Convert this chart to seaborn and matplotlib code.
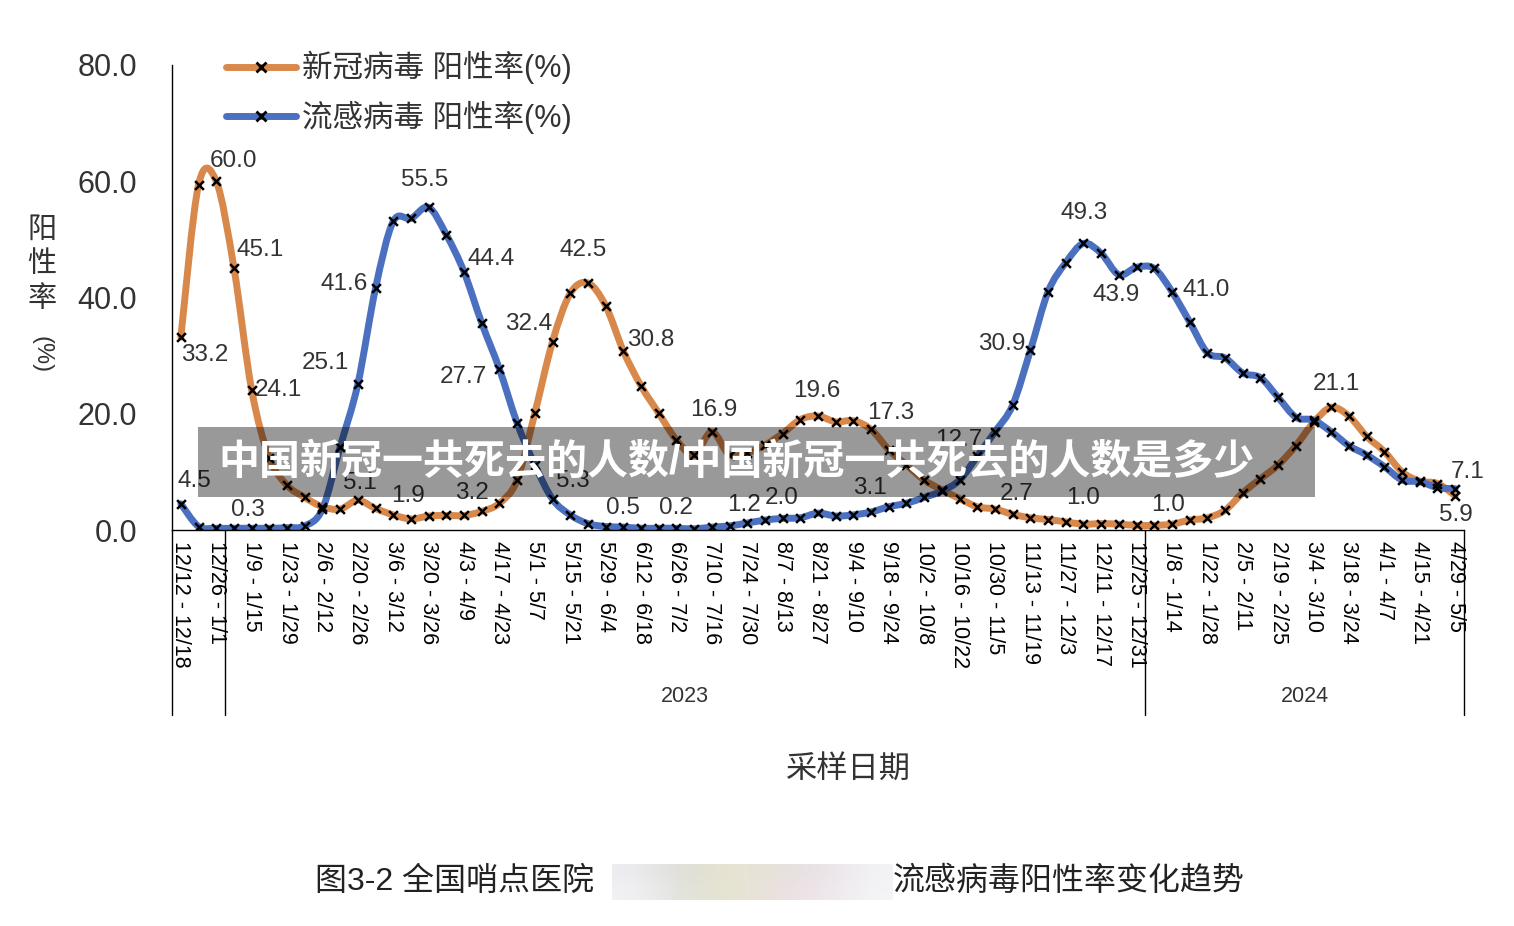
import numpy as np
import pandas as pd
import seaborn as sns
import matplotlib.pyplot as plt
import matplotlib.transforms as mtransforms
from matplotlib.path import Path
from matplotlib.patches import PathPatch, Rectangle
from matplotlib.lines import Line2D

# weekly positivity rates, 2022-12-12 .. 2024-04-29
covid = [33.2, 59.4, 60.0, 45.1, 24.1, 12.4, 7.7, 5.6, 4.0, 3.6,
         5.1, 3.7, 2.6, 1.9, 2.4, 2.5, 2.5, 3.2, 4.6, 8.6,
         20.1, 32.4, 40.7, 42.5, 38.6, 30.8, 24.8, 20.1, 15.5, 12.9,
         16.9, 12.9, 13.3, 14.6, 16.6, 19.0, 19.6, 18.6, 18.8, 17.3,
         13.8, 11.2, 8.6, 6.9, 5.4, 4.0, 3.6, 2.7, 2.1, 1.8,
         1.4, 1.0, 1.1, 1.0, 0.8, 0.8, 1.0, 1.7, 2.1, 3.4,
         6.4, 8.8, 11.2, 14.5, 18.5, 21.1, 19.6, 16.1, 13.5, 10.0,
         8.4, 8.0, 5.9]
flu = [4.5, 0.6, 0.3, 0.3, 0.3, 0.3, 0.4, 0.7, 3.6, 14.3,
       25.1, 41.6, 53.1, 53.6, 55.5, 50.8, 44.4, 35.6, 27.7, 18.4,
       11.2, 5.3, 2.6, 1.1, 0.6, 0.5, 0.3, 0.3, 0.3, 0.2,
       0.5, 0.7, 1.2, 1.7, 2.0, 2.1, 2.9, 2.4, 2.6, 3.1,
       4.0, 4.6, 5.6, 6.7, 8.6, 12.7, 16.9, 21.5, 30.9, 41.0,
       46.0, 49.3, 47.6, 43.9, 45.2, 45.0, 41.0, 35.8, 30.5, 29.6,
       27.0, 26.2, 22.8, 19.4, 18.9, 16.9, 14.5, 12.9, 10.9, 8.6,
       8.3, 7.3, 7.1]

week_labels = ["12/12 - 12/18", "12/26 - 1/1", "1/9 - 1/15", "1/23 - 1/29", "2/6 - 2/12",
               "2/20 - 2/26", "3/6 - 3/12", "3/20 - 3/26", "4/3 - 4/9", "4/17 - 4/23",
               "5/1 - 5/7", "5/15 - 5/21", "5/29 - 6/4", "6/12 - 6/18", "6/26 - 7/2",
               "7/10 - 7/16", "7/24 - 7/30", "8/7 - 8/13", "8/21 - 8/27", "9/4 - 9/10",
               "9/18 - 9/24", "10/2 - 10/8", "10/16 - 10/22", "10/30 - 11/5", "11/13 - 11/19",
               "11/27 - 12/3", "12/11 - 12/17", "12/25 - 12/31", "1/8 - 1/14", "1/22 - 1/28",
               "2/5 - 2/11", "2/19 - 2/25", "3/4 - 3/10", "3/18 - 3/24", "4/1 - 4/7",
               "4/15 - 4/21", "4/29 - 5/5"]
years = ["", "2023", "2024"]
weeks_per_year = [3, 52, 18]
y_ticks = [0, 20, 40, 60, 80]

series_names = ["新冠病毒 阳性率(%)", "流感病毒 阳性率(%)"]
colors = ["#D9884B", "#4A70BF"]

# labelled points: index, and label offset in pixels (dx right, dy down)
covid_labels = [(0, 24, 18), (2, 17, -20), (3, 26, -18), (4, 27, 0), (10, 2, -17),
                (13, -3, -23), (17, -10, -18), (21, -24, -18), (23, -5, -33), (25, 27, -11),
                (30, 2, -22), (36, -1, -25), (39, 20, -16), (47, 4, -20), (51, 0, -26),
                (56, -4, -19), (65, 5, -23), (72, 1, 19)]
flu_labels = [(0, 14, -23), (4, -4, -18), (10, -32, -21), (11, -31, -4), (14, -4, -27),
              (16, 27, -13), (18, -36, 8), (21, 20, -18), (25, 0, -19), (29, -18, -21),
              (32, -3, -18), (34, -1, -20), (39, -1, -24), (45, -19, -16), (48, -29, -6),
              (51, 1, -30), (53, -3, 20), (56, 34, -2), (72, 12, -17)]

banner = "中国新冠一共死去的人数/中国新冠一共死去的人数是多少"


def smooth_path(xs, ys):
    # excel-like smoothed line: cubic bezier with catmull-rom control points
    pts = np.column_stack([xs, ys]).astype(float)
    ext = np.vstack([pts[0], pts, pts[-1]])
    verts, codes = [pts[0]], [Path.MOVETO]
    for i in range(len(pts) - 1):
        p0, p1, p2, p3 = ext[i], ext[i + 1], ext[i + 2], ext[i + 3]
        verts += [p1 + (p2 - p0) / 6, p2 - (p3 - p1) / 6, p2]
        codes += [Path.CURVE4] * 3
    return Path(verts, codes)


sns.set_style("white")
plt.rcParams["font.family"] = ["Liberation Sans", "Noto Sans CJK SC", "DejaVu Sans"]
text_color = "#333333"

W, H = 1514, 926
fig = plt.figure(figsize=(W / 100, H / 100), dpi=100)
ax = fig.add_axes([172 / W, 1 - 530 / H, 1292 / W, 465 / H])

x = np.arange(len(covid))
df = pd.DataFrame({"week": np.concatenate([x, x]),
                   "rate": covid + flu,
                   "virus": [series_names[0]] * len(covid) + [series_names[1]] * len(flu)})

for name, c in zip(series_names, colors):
    d = df[df["virus"] == name]
    ax.add_patch(PathPatch(smooth_path(d["week"], d["rate"]), fill=False, edgecolor=c,
                           lw=5, capstyle="round", joinstyle="round", zorder=2))
sns.scatterplot(data=df, x="week", y="rate", marker="x", color="black", s=40,
                linewidth=1.8, ax=ax, legend=False, zorder=4)

for vals, labs in [(covid, covid_labels), (flu, flu_labels)]:
    for i, dx, dy in labs:
        ax.annotate(f"{vals[i]:.1f}", (i, vals[i]), xytext=(dx * 0.72, -dy * 0.72),
                    textcoords="offset points", ha="center", va="center",
                    fontsize=17.5, color=text_color, zorder=5)

ax.set_xlim(-0.5, len(covid) - 0.5)
ax.set_ylim(0, 80)
ax.set_xlabel("")
ax.set_ylabel("")
sns.despine(ax=ax)
for s in ["left", "bottom"]:
    ax.spines[s].set_color("black")
    ax.spines[s].set_linewidth(1)

ax.set_yticks(y_ticks)
ax.set_yticklabels([f"{v:.1f}" for v in y_ticks], fontsize=22, color=text_color)
ax.tick_params(axis="y", direction="out", length=6, width=1, color="black", pad=19)

ax.set_xticks(x[::2])
ax.set_xticklabels(week_labels, rotation=-90, fontsize=15.5, color="black", va="top", ha="center")
ax.set_xticks(np.arange(-0.5, len(covid), 1), minor=True)
ax.tick_params(axis="x", which="major", length=0, pad=8)
ax.tick_params(axis="x", which="minor", direction="out", length=104, width=1, color="black")

# year grouping below the week labels
trans = mtransforms.blended_transform_factory(ax.transData, ax.transAxes)
edges = np.concatenate([[0], np.cumsum(weeks_per_year)]) - 0.5
for e in edges:
    ax.plot([e, e], [0, -0.398], transform=trans, color="black", lw=1, clip_on=False)
for yr, a, b in zip(years, edges[:-1], edges[1:]):
    ax.text((a + b) / 2, -0.359, yr, transform=trans, ha="center", va="center",
            fontsize=15.5, color=text_color)

fig.text(42 / W, 1 - 264 / H, "阳\n性\n率", ha="center", va="center", fontsize=21,
         linespacing=1.3, color=text_color)
fig.text(42 / W, 1 - 355 / H, "(%)", ha="center", va="center", fontsize=17,
         rotation=-90, color=text_color)
fig.text(848 / W, 1 - 771 / H, "采样日期", ha="center", va="center", fontsize=22.5, color=text_color)

handles = [Line2D([], [], color=c, lw=5, marker="x", mec="black", mew=2, ms=7,
                  solid_capstyle="round") for c in colors]
fig.legend(handles, series_names, loc="upper left", bbox_to_anchor=(226 / W, 1 - 51 / H),
           frameon=False, fontsize=22, handlelength=2.3, handletextpad=0.2,
           labelspacing=0.55, borderpad=0, borderaxespad=0, labelcolor=text_color)

# caption with the smudged middle part
fig.text(315 / W, 1 - 882 / H, "图3-2 全国哨点医院", ha="left", va="center",
         fontsize=23, color="#222222")
fig.text(893 / W, 1 - 882 / H, "流感病毒阳性率变化趋势", ha="left", va="center",
         fontsize=23, color="#222222")
blur = fig.add_axes([612 / W, 1 - 900 / H, 281 / W, 36 / H])
blur.imshow(np.array([[[0.93, 0.93, 0.95], [0.86, 0.86, 0.84], [0.92, 0.90, 0.82],
                       [0.90, 0.88, 0.86], [0.92, 0.88, 0.90], [0.95, 0.95, 0.96]],
                      [[0.95, 0.95, 0.96], [0.88, 0.88, 0.86], [0.90, 0.90, 0.80],
                       [0.92, 0.88, 0.88], [0.93, 0.90, 0.92], [0.96, 0.96, 0.97]]]),
            aspect="auto", interpolation="bicubic")
blur.axis("off")

# overlaid watermark banner
fig.patches.append(Rectangle((198 / W, 1 - 497 / H), 1117 / W, 70 / H, transform=fig.transFigure,
                             facecolor="black", alpha=0.4, edgecolor="none", zorder=10))
fig.text(218 / W, 1 - 462 / H, banner, ha="left", va="center", fontsize=29.5,
         fontweight="bold", color="white", zorder=11)

fig.savefig("out.png", dpi=100)
